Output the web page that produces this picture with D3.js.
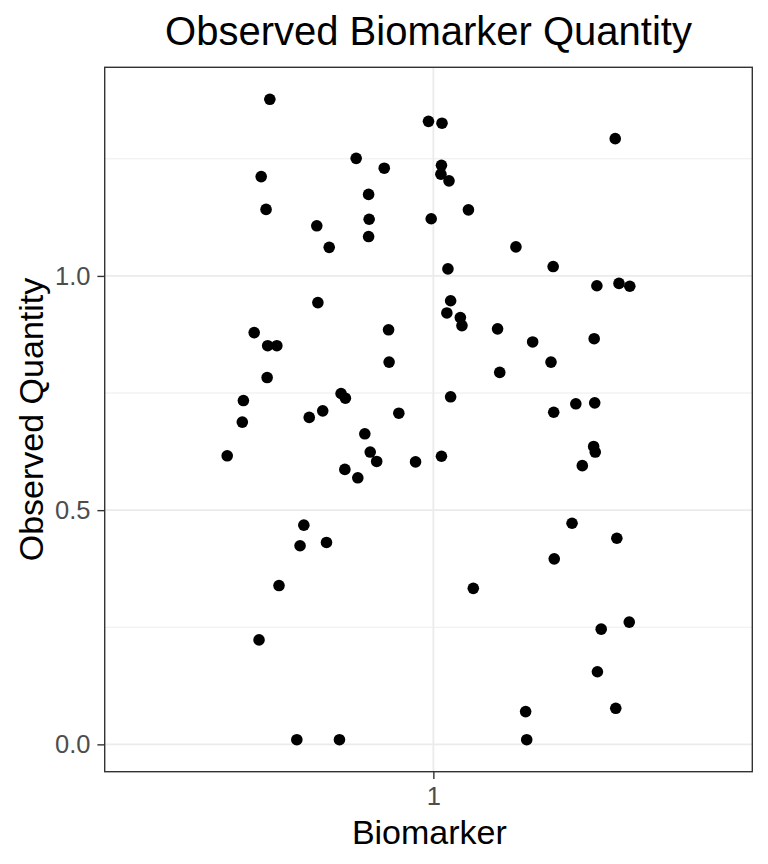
<!DOCTYPE html>
<html>
<head>
<meta charset="utf-8">
<script src="https://cdn.jsdelivr.net/npm/d3@7"></script>
<style>
  html, body { margin: 0; padding: 0; background: #ffffff; }
  svg { display: block; }
  text { font-family: "Liberation Sans", Arial, Helvetica, sans-serif; }
</style>
</head>
<body>
<div id="chart"></div>
<script>
// ---- Data ----
const categories = ["1"];
const categoryValue = [1];
const jitterX = [
  0.697, 0.991, 1.016, 1.337, 0.857, 0.909, 1.015, 1.014, 1.029, 0.681,
  0.880, 0.690, 1.065, 0.881, 0.996, 0.784, 0.880, 0.807, 1.153, 1.222,
  1.027, 1.303, 1.344, 1.364, 0.786, 1.032, 1.025, 1.050, 1.053, 1.119,
  0.668, 0.693, 0.710, 0.917, 1.184, 1.298, 0.918, 1.218, 1.123, 0.692,
  0.648, 0.829, 0.837, 1.032, 0.646, 0.770, 0.795, 0.936, 0.873, 0.883,
  0.895, 0.618, 0.967, 1.015, 0.836, 0.860, 1.223, 1.264, 1.299, 1.297,
  1.300, 1.276, 0.760, 0.753, 0.802, 0.714, 1.074, 1.257, 1.340, 1.224,
  0.677, 0.747, 0.826, 1.311, 1.363, 1.304, 1.171, 1.338, 1.173
];
const quantity = [
  1.377, 1.330, 1.326, 1.293, 1.251, 1.230, 1.236, 1.217, 1.203, 1.212,
  1.174, 1.142, 1.141, 1.121, 1.122, 1.107, 1.084, 1.061, 1.062, 1.020,
  1.015, 0.979, 0.984, 0.978, 0.943, 0.947, 0.921, 0.911, 0.894, 0.887,
  0.879, 0.851, 0.851, 0.885, 0.859, 0.866, 0.816, 0.816, 0.794, 0.783,
  0.734, 0.749, 0.739, 0.742, 0.688, 0.698, 0.712, 0.707, 0.663, 0.624,
  0.604, 0.616, 0.603, 0.615, 0.587, 0.569, 0.709, 0.727, 0.729, 0.636,
  0.624, 0.595, 0.468, 0.424, 0.431, 0.339, 0.333, 0.472, 0.440, 0.396,
  0.223, 0.010, 0.010, 0.246, 0.261, 0.155, 0.070, 0.077, 0.010
];
const yMajorTicks = [0.0, 0.5, 1.0];
const yMinorTicks = [0.25, 0.75, 1.25];
const yTickLabels = ["0.0", "0.5", "1.0"];
const titleText = "Observed Biomarker Quantity";
const xTitle = "Biomarker";
const yTitle = "Observed Quantity";
const xDomain = [0.391, 1.591];

// ---- Layout ----
const W = 768, H = 864;
const margin = { top: 67.3, right: 15.7, bottom: 92.3, left: 104.7 };
const pw = W - margin.left - margin.right;
const ph = H - margin.top - margin.bottom;
const FONT = "'Liberation Sans', Arial, Helvetica, sans-serif";

const svg = d3.select("#chart").append("svg")
  .attr("width", W).attr("height", H);

const g = svg.append("g").attr("transform", `translate(${margin.left},${margin.top})`);

const x = d3.scaleLinear().domain(xDomain).range([0, pw]);
const [ymin, ymax] = d3.extent(quantity);
const pad = (ymax - ymin) * 0.05;
const y = d3.scaleLinear().domain([ymin - pad, ymax + pad]).range([ph, 0]);

// background
g.append("rect").attr("width", pw).attr("height", ph).attr("fill", "#ffffff");

// minor grid
g.selectAll(".ygmin").data(yMinorTicks).enter().append("line")
  .attr("x1", 0).attr("x2", pw)
  .attr("y1", d => y(d)).attr("y2", d => y(d))
  .attr("stroke", "#ebebeb").attr("stroke-width", 0.9);

// major grid
g.selectAll(".ygmaj").data(yMajorTicks).enter().append("line")
  .attr("x1", 0).attr("x2", pw)
  .attr("y1", d => y(d)).attr("y2", d => y(d))
  .attr("stroke", "#ebebeb").attr("stroke-width", 1.8);
g.selectAll(".xgmaj").data(categoryValue).enter().append("line")
  .attr("y1", 0).attr("y2", ph)
  .attr("x1", d => x(d)).attr("x2", d => x(d))
  .attr("stroke", "#ebebeb").attr("stroke-width", 1.8);

// points
g.selectAll(".pt").data(quantity.map((q, i) => ({ x: jitterX[i], y: q })))
  .enter().append("circle")
  .attr("cx", d => x(d.x)).attr("cy", d => y(d.y))
  .attr("r", 5.8).attr("fill", "#000000");

// panel border
g.append("rect").attr("width", pw).attr("height", ph)
  .attr("fill", "none").attr("stroke", "#333333").attr("stroke-width", 1.4);

// axes
const yAxis = d3.axisLeft(y).tickValues(yMajorTicks)
  .tickFormat((d, i) => yTickLabels[i]).tickSize(7.3).tickPadding(7);
const xAxis = d3.axisBottom(x).tickValues(categoryValue)
  .tickFormat((d, i) => categories[i]).tickSize(7.3).tickPadding(8);

const ya = g.append("g").call(yAxis);
const xa = g.append("g").attr("transform", `translate(0,${ph})`).call(xAxis);
[ya, xa].forEach(a => {
  a.select(".domain").remove();
  a.selectAll(".tick line").attr("stroke", "#333333").attr("stroke-width", 1.4);
  a.selectAll(".tick text").attr("fill", "#4d4d4d")
    .style("font-size", "25.5px")
    .style("font-family", FONT);
});
xa.selectAll(".tick text").attr("dy", "0.72em");

// titles
svg.append("text")
  .attr("x", margin.left + pw / 2).attr("y", 45)
  .attr("text-anchor", "middle")
  .style("font-size", "40px").attr("fill", "#000000")
  .text(titleText);

svg.append("text")
  .attr("x", margin.left + x(1) - 4).attr("y", 844)
  .attr("text-anchor", "middle")
  .style("font-size", "34px").attr("fill", "#000000")
  .text(xTitle);

svg.append("text")
  .attr("transform", `translate(43,${margin.top + ph / 2}) rotate(-90)`)
  .attr("text-anchor", "middle")
  .style("font-size", "34px").attr("fill", "#000000")
  .text(yTitle);
</script>
</body>
</html>
